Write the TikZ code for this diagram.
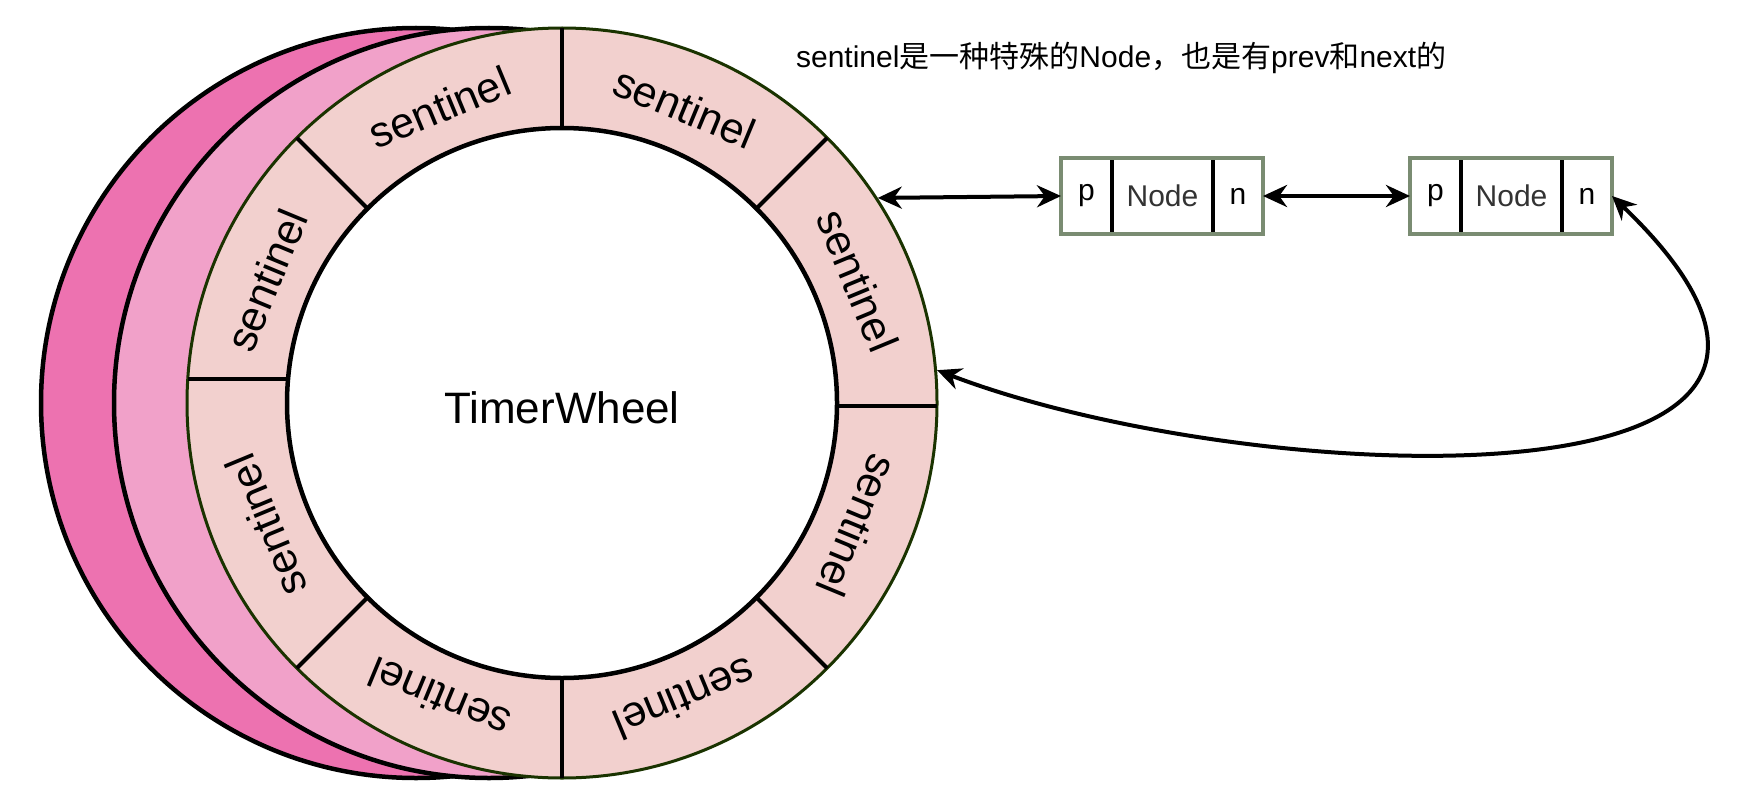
\documentclass[tikz,border=0pt]{standalone}
\usepackage{fontspec}
\setmainfont{Liberation Sans}
\newfontfamily\cjk{Noto Sans CJK SC}
\usetikzlibrary{shapes,arrows.meta,positioning}
\definecolor{ringpink}{RGB}{242,208,206}
\definecolor{midpink}{RGB}{241,161,201}
\definecolor{backpink}{RGB}{237,114,176}
\definecolor{rimgreen}{RGB}{26,51,0}
\definecolor{framegreen}{RGB}{122,140,114}
\definecolor{nodegray}{RGB}{51,51,51}
\tikzstyle{Disc} = [draw, circle, line width=2.25pt, minimum size=375pt, inner sep=0pt]
\tikzstyle{Wheel} = [Disc, fill=ringpink, draw=rimgreen, line width=1.5pt]
\tikzstyle{Hub} = [draw, circle, fill=white, line width=2.25pt, minimum size=275pt, inner sep=0pt]
\tikzstyle{Spoke} = [line width=2pt]
\tikzstyle{Slot} = [font=\fontsize{21.5}{26}\selectfont]
\tikzstyle{Cell} = [rectangle, inner sep=0pt, outer sep=0pt, minimum height=38pt, font=\fontsize{15}{18}\selectfont]
\tikzstyle{Frame} = [draw=framegreen, line width=2pt]
\tikzstyle{Link} = [line width=2pt, {Stealth[length=12pt,width=11pt]}-{Stealth[length=12pt,width=11pt]}]

\begin{document}
\begin{tikzpicture}[x=0.5pt, y=0.5pt]
    \useasboundingbox (0,0) rectangle (1744,-808);
    % wheel layers
    \node[Disc, fill=backpink] (back2) at (416,-403) {};
    \node[Disc, fill=midpink]  (back1) at (489,-403) {};
    \node[Wheel]               (wheel) at (562,-403) {};
    \node[Hub]                 (hub)   at (wheel.center) {};
    \node[font=\fontsize{22}{26}\selectfont] (title) at (562,-408) {TimerWheel};
    \foreach \a in {45,90,135,225,270,315}
      \draw[Spoke] (wheel.center) ++(\a:275) -- ++(\a:100);
    \draw[Spoke] (188,-379) -- (288,-379);
    \draw[Spoke] (837,-406) -- (937,-406);
    \foreach \a [count=\i] in {22.5,67.5,...,337.5}
      \path (wheel.center) ++(\a:320) node[Slot, rotate=\a-90] (slot\i) {sentinel};
    % linked nodes
    \node[Cell, minimum width=25.5pt, anchor=west] (p1) at (1061,-196) {p};
    \node[Cell, minimum width=50.5pt, text=nodegray] (m1) [right=0pt of p1] {Node};
    \node[Cell, minimum width=25pt]   (n1) [right=0pt of m1]    {n};
    \node[Cell, minimum width=25.5pt] (p2) [right=73.5pt of n1] {p};
    \node[Cell, minimum width=50.5pt, text=nodegray] (m2) [right=0pt of p2] {Node};
    \node[Cell, minimum width=25pt]   (n2) [right=0pt of m2]    {n};
    \foreach \c in {p1,m1,p2,m2}
      \draw[Spoke] (\c.north east) -- (\c.south east);
    \draw[Frame] (p1.north west) rectangle (n1.south east);
    \draw[Frame] (p2.north west) rectangle (n2.south east);
    \node[anchor=west, font=\fontsize{15}{18}\selectfont] (note) at (789,-58)
      {sentinel{\cjk 是一种特殊的}Node{\cjk ，也是有}prev{\cjk 和}next{\cjk 的}};
    \draw[Link] (wheel.33) -- (p1.west);
    \draw[Link] (n1.east)  -- (p2.west);
    \draw[Link] (wheel.5) .. controls (1250,-490) and (1950,-520) .. (n2.east);
\end{tikzpicture}
\end{document}
